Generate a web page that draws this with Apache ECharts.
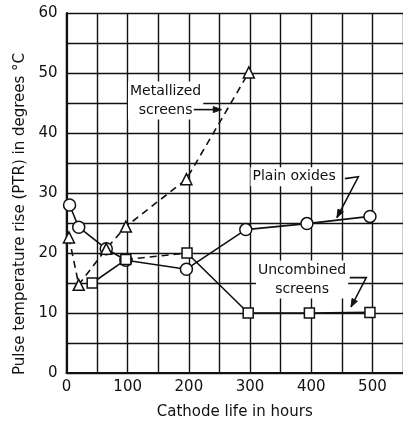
<!DOCTYPE html>
<html>
<head>
<meta charset="utf-8">
<script src="https://cdn.jsdelivr.net/npm/echarts@6/dist/echarts.min.js"></script>
<style>
html,body{margin:0;padding:0;background:#fff;}
#chart{width:403px;height:425px;}
</style>
</head>
<body>
<div id="chart"></div>
<script>
// ---- data ----
const plainHours = [5, 20, 65, 97, 196, 293, 393, 496];
const plainPTR = [28.0, 24.3, 20.7, 18.8, 17.3, 23.9, 24.9, 26.1];

const metalHours = [4, 20, 65, 97, 196, 298];
const metalPTR = [22.6, 14.7, 20.7, 24.4, 32.3, 50.1];

const uncombHours = [42, 97, 197, 297, 397, 496];
const uncombPTR = [15.0, 18.9, 20.0, 10.0, 10.0, 10.1];
const uncombDashedSegments = [1]; // segment from point i to i+1 is dashed

const xTicks = [0, 100, 200, 300, 400, 500];
const yTicks = [0, 10, 20, 30, 40, 50, 60];

const xTitle = 'Cathode life in hours';
const yTitle = 'Pulse temperature rise (PTR) in degrees \u00B0C';

// annotations (data coordinates)
const metalLabel = { text: 'Metallized\nscreens', at: [162, 45.4], arrow: [[208, 43.9], [253, 43.9]] };
const plainLabel = { text: 'Plain oxides', at: [372, 32.7], arrow: [[455, 32.4], [477, 32.7], [442, 25.9]] };
const uncombLabel = { text: 'Uncombined\nscreens', at: [385, 15.6], arrow: [[463, 15.9], [490, 15.9], [465, 11.0]] };

const FONT = '"DejaVu Sans", "Liberation Sans", sans-serif';
const INK = '#111';

const chart = echarts.init(document.getElementById('chart'), null, { renderer: 'canvas' });

function pts(xs, ys) { return xs.map((x, i) => [x, ys[i]]); }

const markerBase = {
  itemStyle: { color: '#fff', borderColor: INK, borderWidth: 1.5 },
  emphasis: { disabled: true },
  animation: false,
  z: 3
};

// split uncombined into solid and dashed pieces
const uncombSolid = [];
const uncombDashed = [];
for (let i = 0; i < uncombHours.length; i++) {
  uncombSolid.push([uncombHours[i], uncombPTR[i]]);
  if (i < uncombHours.length - 1 && uncombDashedSegments.includes(i)) {
    uncombSolid.push('-');
    uncombDashed.push([[uncombHours[i], uncombPTR[i]], [uncombHours[i + 1], uncombPTR[i + 1]]]);
  }
}

const series = [
  {
    name: 'Plain oxides', type: 'line', data: pts(plainHours, plainPTR),
    symbol: 'circle', symbolSize: 12,
    lineStyle: { color: INK, width: 1.6, type: 'solid' },
    ...markerBase
  },
  {
    name: 'Metallized screens', type: 'line', data: pts(metalHours, metalPTR),
    symbol: 'triangle', symbolSize: 11,
    lineStyle: { color: INK, width: 1.6, type: [7, 5] },
    ...markerBase
  },
  {
    name: 'Uncombined screens', type: 'line', data: uncombSolid,
    connectNulls: false,
    symbol: 'rect', symbolSize: 10,
    lineStyle: { color: INK, width: 1.6, type: 'solid' },
    ...markerBase
  }
];
uncombDashed.forEach(seg => {
  series.push({
    name: 'Uncombined screens (dashed)', type: 'line', data: seg,
    symbol: 'none',
    lineStyle: { color: INK, width: 1.6, type: [7, 5] },
    animation: false, z: 2
  });
});

const option = {
  backgroundColor: '#fff',
  animation: false,
  grid: { left: 66.5, right: -4, top: 13, bottom: 43.5, containLabel: false },
  xAxis: {
    type: 'value', min: 0, max: 550, interval: 50,
    name: xTitle, nameLocation: 'middle', nameGap: 32,
    nameTextStyle: { fontFamily: FONT, fontSize: 15, color: INK },
    axisLine: { show: true, onZero: false, lineStyle: { color: INK, width: 2.2 } },
    axisTick: { show: false },
    axisLabel: {
      fontFamily: FONT, fontSize: 15, color: INK, margin: 7,
      showMaxLabel: false,
      formatter: v => (xTicks.includes(v) ? String(v) : '')
    },
    splitLine: { show: true, lineStyle: { color: INK, width: 1.4 } }
  },
  yAxis: {
    type: 'value', min: 0, max: 60, interval: 5,
    axisLine: { show: true, lineStyle: { color: INK, width: 2.2 } },
    axisTick: { show: false },
    axisLabel: {
      fontFamily: FONT, fontSize: 15, color: INK, margin: 9,
      formatter: v => (yTicks.includes(v) ? String(v) : '')
    },
    splitLine: { show: true, lineStyle: { color: INK, width: 1.4 } }
  },
  series: series
};

chart.setOption(option);

// annotations
function toPx(p) { return chart.convertToPixel({ gridIndex: 0 }, p); }
function arrowGraphics(pathData) {
  const p = pathData.map(toPx);
  const out = [{
    type: 'polyline', shape: { points: p }, z: 10,
    style: { stroke: INK, lineWidth: 1.6, fill: null }
  }];
  const a = p[p.length - 2], b = p[p.length - 1];
  const dx = b[0] - a[0], dy = b[1] - a[1];
  const L = Math.hypot(dx, dy) || 1;
  const ux = dx / L, uy = dy / L;
  const len = 8, hw = 3;
  const base = [b[0] - ux * len, b[1] - uy * len];
  out.push({
    type: 'polygon', z: 10,
    shape: { points: [b, [base[0] - uy * hw, base[1] + ux * hw], [base[0] + uy * hw, base[1] - ux * hw]] },
    style: { fill: INK, stroke: INK, lineWidth: 1 }
  });
  return out;
}
function labelGraphic(lbl) {
  const c = toPx(lbl.at);
  return {
    type: 'text', x: c[0], y: c[1], z: 9,
    style: {
      text: lbl.text, font: '14px ' + FONT, fill: INK,
      align: 'center', verticalAlign: 'middle', lineHeight: 19,
      backgroundColor: '#fff', padding: [0, 2]
    }
  };
}
const graphics = [];
[metalLabel, plainLabel, uncombLabel].forEach(l => {
  graphics.push(labelGraphic(l));
  arrowGraphics(l.arrow).forEach(g => graphics.push(g));
});
// y axis title
graphics.push({
  type: 'text', x: 20, y: 214, rotation: Math.PI / 2, z: 9,
  style: { text: yTitle, font: '15px ' + FONT, fill: INK, align: 'center', verticalAlign: 'middle' }
});
chart.setOption({ graphic: graphics });
</script>
</body>
</html>
